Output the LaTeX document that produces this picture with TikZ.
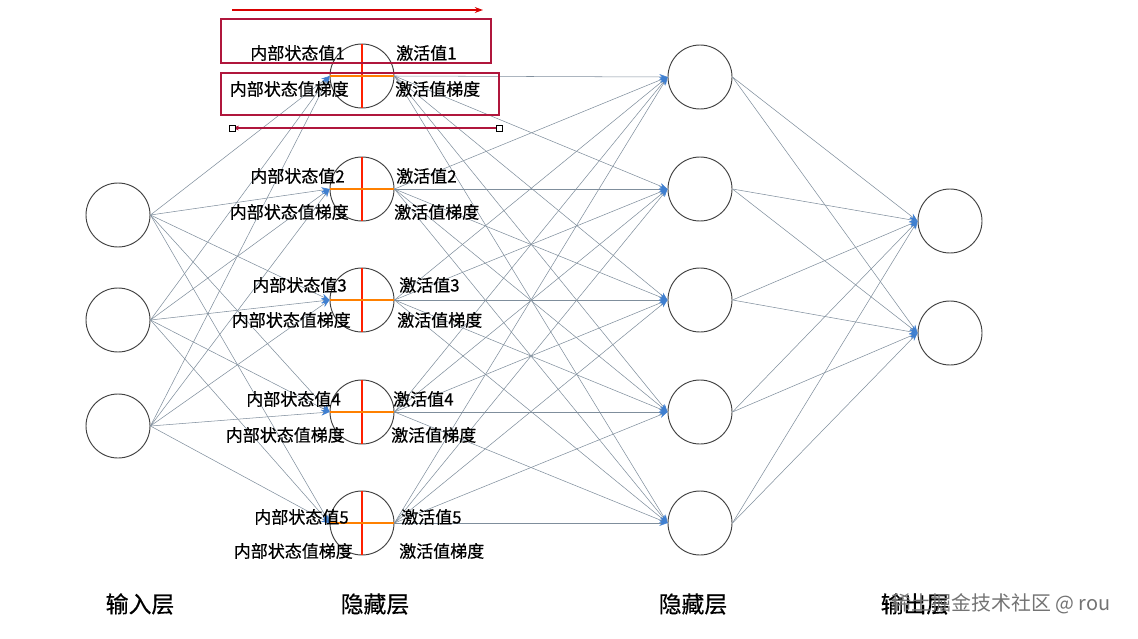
\documentclass[tikz,border=0pt]{standalone}
\usepackage{fontspec}
\setmainfont{Noto Sans CJK SC}
\newfontfamily\cnheavy{Noto Sans CJK SC}[FakeBold=0.5]
\usetikzlibrary{arrows.meta}
\definecolor{wire}{HTML}{7F8E9C}
\definecolor{tipblue}{HTML}{3F7FD0}
\definecolor{boxred}{HTML}{B0163C}
\tikzset{
  unit/.style = {draw=black!75, circle, minimum size=1.92cm, inner sep=0pt, line width=0.8pt},
  link/.style = {draw=wire, line width=0.45pt, -{Stealth[length=7pt,width=5pt,color=tipblue]}},
  lab/.style = {font=\cnheavy\fontsize{14.5}{16}\selectfont, inner sep=0pt},
  layer/.style = {font=\cnheavy\fontsize{19.5}{21}\selectfont, inner sep=0pt},
}
\begin{document}
\begin{tikzpicture}[x=0.03cm, y=-0.03cm]
\useasboundingbox (0,0) rectangle (1138,638);
% input layer
\draw(118,215) node[unit] (i1) {};
\draw(118,320) node[unit] (i2) {};
\draw(118,426) node[unit] (i3) {};
% hidden layer with state / activation split
\foreach \n/\y in {1/76, 2/189, 3/300, 4/412, 5/523} {
  \draw(362,\y) node[unit] (h\n) {};
  \draw[red!75!orange, line width=1.1pt] (h\n.north) -- (h\n.south);
  \draw[orange, line width=1.5pt] (h\n.west) -- (h\n.east);
}
% second hidden layer
\draw(700,77) node[unit] (g1) {};
\draw(700,189) node[unit] (g2) {};
\draw(700,300) node[unit] (g3) {};
\draw(700,412) node[unit] (g4) {};
\draw(700,523) node[unit] (g5) {};
% output layer
\draw(950,221) node[unit] (o1) {};
\draw(950,333) node[unit] (o2) {};
% connections
\foreach \a in {1,2,3} \foreach \b in {1,...,5} \draw[link] (i\a.east) -- (h\b.west);
\foreach \a in {1,...,5} \foreach \b in {1,...,5} \draw[link] (h\a.east) -- (g\b.west);
\foreach \a in {1,...,5} \foreach \b in {1,2} \draw[link] (g\a.east) -- (o\b.west);
% labels round the hidden units
\draw(345,53) node[lab, anchor=east] (s1) {内部状态值1};
\draw(396,53) node[lab, anchor=west] (a1) {激活值1};
\draw(349,89) node[lab, anchor=east] (sg1) {内部状态值梯度};
\draw(395,89) node[lab, anchor=west] (ag1) {激活值梯度};
\draw(345,176) node[lab, anchor=east] (s2) {内部状态值2};
\draw(396,176) node[lab, anchor=west] (a2) {激活值2};
\draw(349,212) node[lab, anchor=east] (sg2) {内部状态值梯度};
\draw(394,212) node[lab, anchor=west] (ag2) {激活值梯度};
\draw(347,285) node[lab, anchor=east] (s3) {内部状态值3};
\draw(399,285) node[lab, anchor=west] (a3) {激活值3};
\draw(351,320) node[lab, anchor=east] (sg3) {内部状态值梯度};
\draw(397,320) node[lab, anchor=west] (ag3) {激活值梯度};
\draw(341,399) node[lab, anchor=east] (s4) {内部状态值4};
\draw(393,399) node[lab, anchor=west] (a4) {激活值4};
\draw(345,435) node[lab, anchor=east] (sg4) {内部状态值梯度};
\draw(391,435) node[lab, anchor=west] (ag4) {激活值梯度};
\draw(349,517) node[lab, anchor=east] (s5) {内部状态值5};
\draw(401,517) node[lab, anchor=west] (a5) {激活值5};
\draw(353,551) node[lab, anchor=east] (sg5) {内部状态值梯度};
\draw(399,551) node[lab, anchor=west] (ag5) {激活值梯度};
% highlight boxes and direction arrows
\draw[boxred, line width=1.4pt] (221,19) rectangle (491,63);
\draw[boxred, line width=1.4pt] (221,73) rectangle (499,115);
\coordinate (fa) at (232,10); \coordinate (fb) at (483,10);
\draw[red!85!black, line width=1.3pt, -{Stealth[length=7pt,width=5pt]}] (fa) -- (fb);
\coordinate (ba) at (499,128); \coordinate (bb) at (232,128);
\draw[boxred, line width=1.1pt, -{Stealth[length=6pt,width=4pt]}] (ba) -- (bb);
\draw[black, line width=0.5pt, fill=white] (496,125) rectangle (502,131);
\draw[black, line width=0.5pt, fill=white] (229,125) rectangle (235,131);
% layer names
\draw(140,604) node[layer] (L1) {输入层};
\draw(375,604) node[layer] (L2) {隐藏层};
\draw(693,604) node[layer] (L3) {隐藏层};
\draw(915,604) node[layer] (L4) {输出层};
\draw(1001,604) node[layer, font=\fontsize{17}{19}\selectfont, text=black!55] (wm) {稀土掘金技术社区 @ rou};
\end{tikzpicture}
\end{document}
